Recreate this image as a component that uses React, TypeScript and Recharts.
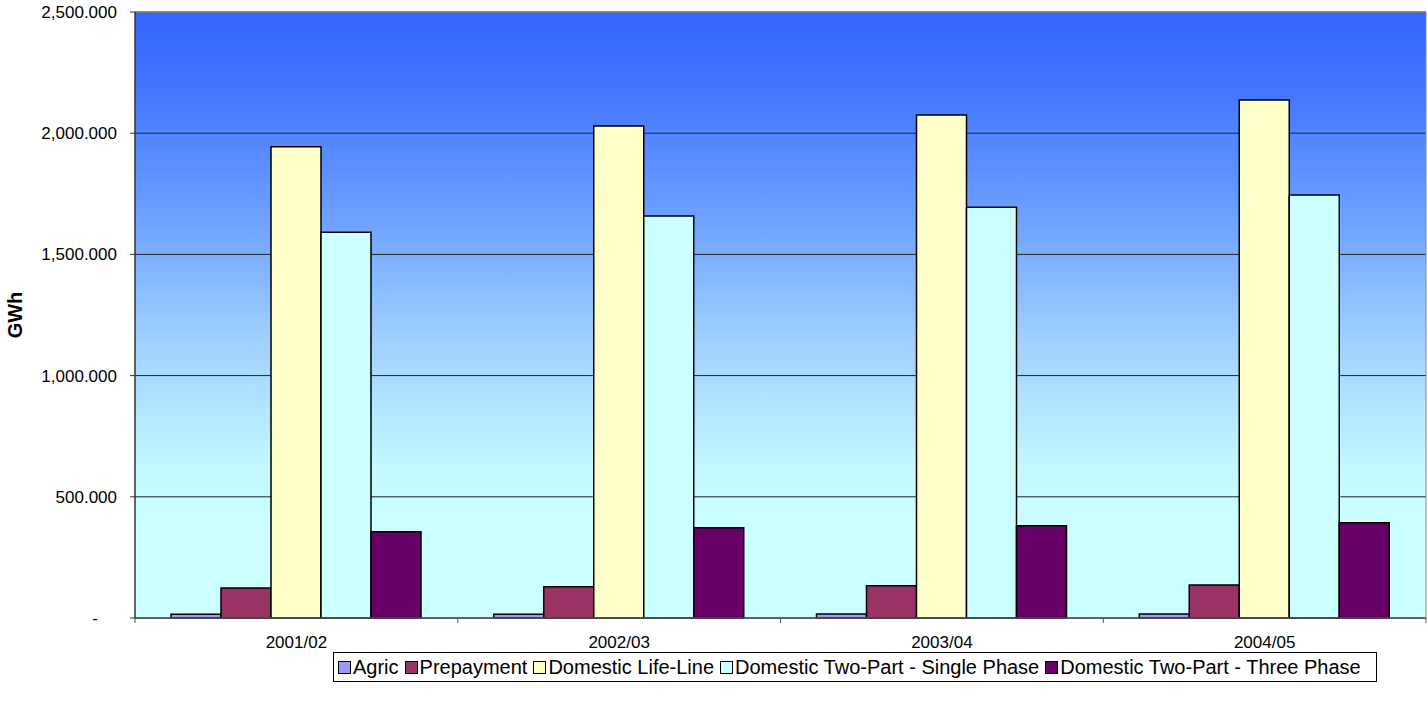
import { Bar, BarChart, XAxis, YAxis, CartesianGrid, Legend, ReferenceLine, Label } from "recharts"

// values, GWh per financial year
const years = ["2001/02", "2002/03", "2003/04", "2004/05"]
const agric = [15, 15, 16, 16]
const prepayment = [124, 129, 133, 136]
const lifeLine = [1944, 2030, 2075, 2137]
const singlePhase = [1591, 1658, 1694, 1745]
const threePhase = [356, 372, 381, 393]
const yTicks = [0, 500, 1000, 1500, 2000, 2500]

const series = [
  { key: "Agric", values: agric, color: "#9999FF" },
  { key: "Prepayment", values: prepayment, color: "#993366" },
  { key: "Domestic Life-Line", values: lifeLine, color: "#FFFFCC" },
  { key: "Domestic Two-Part - Single Phase", values: singlePhase, color: "#CCFFFF" },
  { key: "Domestic Two-Part - Three Phase", values: threePhase, color: "#660066" },
]

const data = years.map((year, i) => {
  const row: Record<string, string | number> = { year }
  series.forEach((s) => {
    row[s.key] = s.values[i]
  })
  return row
})

const FONT = '"Liberation Sans", Arial, sans-serif'

const fmt = (v: number) =>
  v.toLocaleString("en-US", { minimumFractionDigits: 3, maximumFractionDigits: 3 })

function YearTick(props: any) {
  const { x, y, payload, index } = props
  const half = payload?.offset || 1291 / 8
  return (
    <g>
      <line x1={x - half} x2={x - half} y1={y - 8} y2={y - 3} stroke="#555" />
      {index === years.length - 1 && (
        <line x1={x + half} x2={x + half} y1={y - 8} y2={y - 3} stroke="#555" />
      )}
      <text x={x} y={y + 22} textAnchor="middle" fontSize={17} fill="#000">
        {payload.value}
      </text>
    </g>
  )
}

function GwhTick(props: any) {
  const { x, y, payload } = props
  const zero = payload.value === 0
  return (
    <text x={zero ? x - 19 : x} y={y} dy="0.355em" textAnchor="end" fontSize={17} fill="#000">
      {zero ? "-" : fmt(payload.value)}
    </text>
  )
}

function LegendBox() {
  return (
    <div
      style={{
        border: "1px solid #000",
        height: 30,
        display: "flex",
        alignItems: "center",
        paddingLeft: 4,
        boxSizing: "border-box",
        fontFamily: FONT,
        fontSize: 20,
        color: "#000",
        whiteSpace: "nowrap",
      }}
    >
      {series.map((s) => (
        <div key={s.key} style={{ display: "flex", alignItems: "center", marginRight: 6 }}>
          <span
            style={{
              width: 11,
              height: 11,
              background: s.color,
              border: "1px solid #000",
              marginRight: 2,
              display: "inline-block",
            }}
          />
          <span>{s.key}</span>
        </div>
      ))}
    </div>
  )
}

export default function App() {
  return (
    <div style={{ width: 1427, height: 714, position: "relative", fontFamily: FONT }}>
      <style>{"body{margin:0}"}</style>
      <BarChart
        width={1427}
        height={714}
        data={data}
        barSize={50}
        barGap={0}
        margin={{ top: 12, right: 0, left: 0, bottom: 56 }}
      >
        <defs>
          <linearGradient id="plotBg" x1="0" y1="0" x2="0" y2="1">
            <stop offset="0" stopColor="#3366FF" />
            <stop offset="0.15" stopColor="#477AFF" />
            <stop offset="0.35" stopColor="#70A3FF" />
            <stop offset="0.54" stopColor="#A0D0FF" />
            <stop offset="0.75" stopColor="#C4F7FF" />
            <stop offset="0.85" stopColor="#CCFFFF" />
            <stop offset="1" stopColor="#CCFFFF" />
          </linearGradient>
        </defs>
        <CartesianGrid vertical={false} stroke="#222" fill="url(#plotBg)" fillOpacity={1} />
        <XAxis
          dataKey="year"
          height={40}
          tickSize={6}
          tickMargin={2}
          tickLine={false}
          axisLine={{ stroke: "#555", strokeWidth: 1.5 }}
          tick={<YearTick />}
          interval={0}
        />
        <YAxis
          width={135}
          domain={[0, 2500]}
          ticks={yTicks}
          tickSize={5}
          tickMargin={13}
          axisLine={{ stroke: "#333", strokeWidth: 1.5 }}
          tickLine={{ stroke: "#333" }}
          tick={<GwhTick />}
        >
          <Label
            content={() => (
              <text
                transform="translate(15,315) rotate(-90)"
                textAnchor="middle"
                dominantBaseline="central"
                fontWeight="bold"
                fontSize={20}
                fill="#000"
              >
                GWh
              </text>
            )}
          />
        </YAxis>
        <YAxis
          yAxisId="right"
          orientation="right"
          width={1}
          domain={[0, 2500]}
          tick={false}
          tickLine={false}
          axisLine={{ stroke: "#888" }}
        />
        <ReferenceLine y={2500} stroke="#888" strokeWidth={1.5} />
        {series.map((s) => (
          <Bar
            key={s.key}
            dataKey={s.key}
            fill={s.color}
            stroke="#000"
            strokeWidth={1.5}
            isAnimationActive={false}
          />
        ))}
        <Legend
          layout="horizontal"
          verticalAlign="middle"
          align="center"
          wrapperStyle={{ left: 333, top: 652, width: 1044, height: 30 }}
          content={() => <LegendBox />}
        />
      </BarChart>
    </div>
  )
}
